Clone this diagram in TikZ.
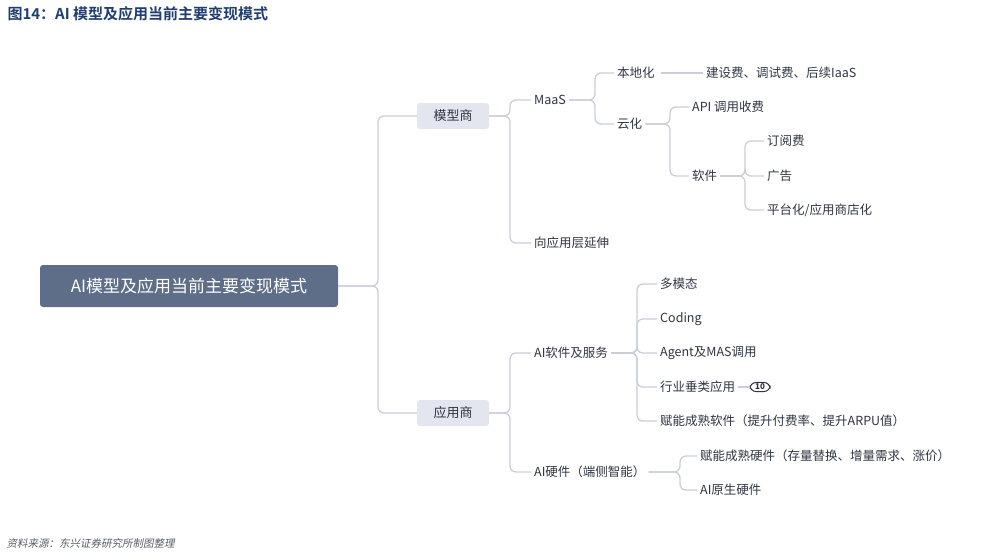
\documentclass[tikz,border=0pt]{standalone}
\usepackage{fontspec}
\setmainfont{Noto Sans CJK SC}
\newfontfamily\titlef{Noto Sans CJK SC Bold}
\begin{document}
\begin{tikzpicture}[x=1pt,y=-1pt,
  conn/.style={draw=lineC,line width=1.3pt,rounded corners=6pt},
  lf/.style={anchor=west,inner sep=3pt,text=txtC,font=\fontsize{12.5}{14}\selectfont},
  mid/.style={draw=none,fill=boxC,rounded corners=3pt,minimum width=72pt,minimum height=26pt,text=txtC,font=\fontsize{13}{15}\selectfont}]
\definecolor{lineC}{HTML}{C9CED9}
\definecolor{boxC}{HTML}{E3E6EE}
\definecolor{txtC}{HTML}{2F3542}
\definecolor{rootC}{HTML}{5E6D88}
\definecolor{titC}{HTML}{1F3E6E}
\useasboundingbox (0,0) rectangle (981,555);
\node[anchor=west,text=titC,font=\titlef\fontsize{15}{17}\selectfont] (title) at (4,14) {图14：AI 模型及应用当前主要变现模式};
\node[anchor=west,text=txtC!80,font=\fontsize{10.5}{12}\selectfont,xslant=0.2] (foot) at (4,543) {资料来源：东兴证券研究所制图整理};
\node[fill=rootC,rounded corners=3pt,minimum width=298pt,minimum height=42pt,text=white,font=\fontsize{17}{19}\selectfont] (root) at (189,286) {AI模型及应用当前主要变现模式};
\node[mid] (mx) at (453,116) {模型商};
\node[mid] (yy) at (453,413) {应用商};
\coordinate (t0) at (378,0);
\coordinate (t1) at (510,0);
\coordinate (t2) at (595,0);
\coordinate (t3) at (670,0);
\coordinate (t4) at (745,0);
\coordinate (t5) at (637,0);
\coordinate (t6) at (680,0);
\node[lf] (maas) at (531,100) {MaaS};
\node[lf] (xiang) at (531,243) {向应用层延伸};
\node[lf] (bdh) at (614,73) {本地化};
\node[lf] (yh) at (614,124) {云化};
\node[lf] (jsf) at (703,73) {建设费、调试费、后续IaaS};
\node[lf] (api) at (689,107) {API 调用收费};
\node[lf] (rj) at (689,176) {软件};
\node[lf] (dy) at (764,141) {订阅费};
\node[lf] (gg) at (764,176) {广告};
\node[lf] (pt) at (764,210) {平台化/应用商店化};
\node[lf] (aisw) at (531,353) {AI软件及服务};
\node[lf] (aihw) at (531,472) {AI硬件（端侧智能）};
\node[lf] (dmt) at (657,284) {多模态};
\node[lf] (cod) at (657,319) {Coding};
\node[lf] (agt) at (657,353) {Agent及MAS调用};
\node[lf] (hy) at (657,387) {行业垂类应用};
\node[lf] (fn) at (657,421) {赋能成熟软件（提升付费率、提升ARPU值）};
\node[lf] (fnh) at (697,456) {赋能成熟硬件（存量替换、增量需求、涨价）};
\node[lf] (ys) at (697,490) {AI原生硬件};
\node[draw=txtC,line width=1pt,rounded corners=6pt,inner sep=1.5pt,minimum width=20pt,font=\fontsize{8}{9}\selectfont\bfseries,text=txtC] (b10) at (760,387) {10};
\foreach \p/\t/\c in {root/t0/mx,root/t0/yy,mx/t1/maas,mx/t1/xiang,maas/t2/bdh,maas/t2/yh,yh/t3/api,yh/t3/rj,rj/t4/dy,rj/t4/gg,rj/t4/pt,yy/t1/aisw,yy/t1/aihw,aisw/t5/dmt,aisw/t5/cod,aisw/t5/agt,aisw/t5/hy,aisw/t5/fn,aihw/t6/fnh,aihw/t6/ys}
  \draw[conn] (\p.east) -- (\p.east -| \t) |- (\c.west);
\draw[conn] ([xshift=3pt]bdh.east) -- (jsf.west);
\draw[draw=lineC,line width=1.3pt] (hy.east) -- (b10.west);
\end{tikzpicture}
\end{document}
